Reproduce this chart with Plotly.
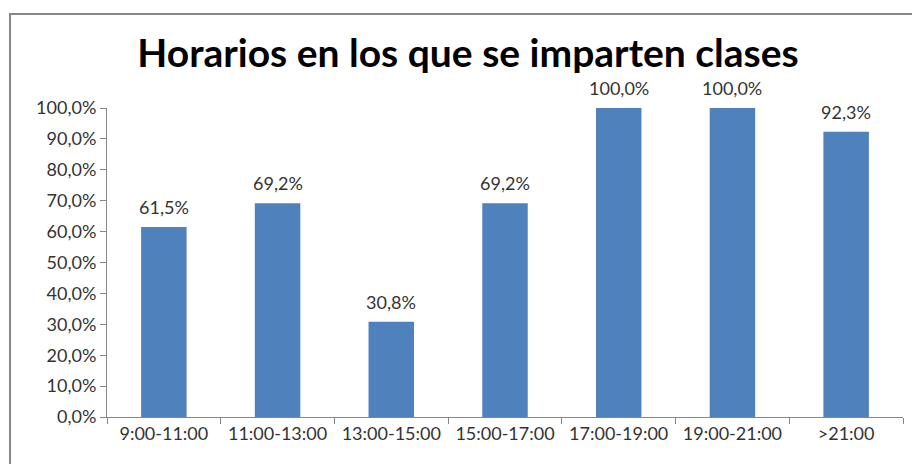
import plotly.graph_objects as go

categories = ["9:00-11:00", "11:00-13:00", "13:00-15:00", "15:00-17:00",
              "17:00-19:00", "19:00-21:00", ">21:00"]
values = [0.615, 0.692, 0.308, 0.692, 1.0, 1.0, 0.923]
title_text = "Horarios en los que se imparten clases"

FONT = "Lato, Carlito, Calibri, sans-serif"
AXIS = "#868686"
TXT = "#333333"

fig = go.Figure(go.Bar(
    x=categories, y=values,
    marker=dict(color="#4F81BD", line=dict(color="#4F81BD", width=0)),
    hoverinfo="x+y",
))

annotations = [
    dict(x=c, y=v, xref="x", yref="y", text=f"{v*100:.1f}%".replace(".", ","),
         showarrow=False, yanchor="bottom", yshift=7,
         font=dict(family=FONT, size=18, color=TXT))
    for c, v in zip(categories, values)
]

fig.update_layout(
    width=912, height=464,
    margin=dict(l=107, r=9, t=108, b=47),
    paper_bgcolor="white", plot_bgcolor="white",
    separators=",.",
    bargap=0.6,
    showlegend=False,
    annotations=annotations,
    title=dict(text="<b>" + title_text + "</b>", x=468 / 912, xanchor="center",
               y=1 - 53 / 464, yanchor="middle",
               font=dict(family=FONT, size=39, color="black")),
    shapes=[dict(type="rect", xref="paper", yref="paper",
                 x0=-97 / 796, x1=1.1, y0=-0.3, y1=1 + 94 / 309,
                 line=dict(color=AXIS, width=2), layer="above")],
)
fig.update_xaxes(
    type="category", tickson="boundaries", ticks="outside", ticklen=6,
    tickcolor=AXIS, showline=True, linecolor=AXIS, linewidth=1,
    showgrid=False, tickfont=dict(family=FONT, size=18, color=TXT),
)
fig.update_yaxes(
    range=[0, 1], dtick=0.1, tickformat=".1%", ticks="outside", ticklen=6,
    tickcolor=AXIS, showline=True, linecolor=AXIS, linewidth=1,
    showgrid=False, zeroline=False,
    tickfont=dict(family=FONT, size=18, color=TXT),
)

fig.write_html("out.html")
